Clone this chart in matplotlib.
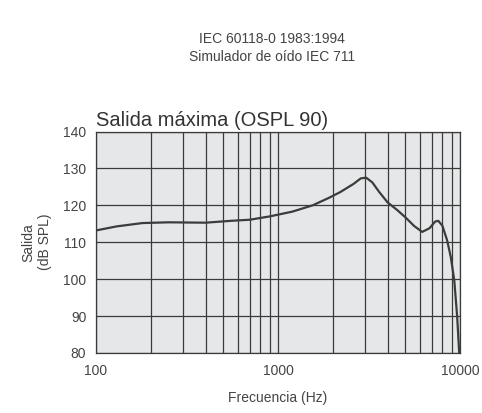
import matplotlib
matplotlib.use("Agg")
import matplotlib.pyplot as plt
from matplotlib.ticker import FixedLocator, NullFormatter

# Curve (frequency in Hz, output in dB SPL)
freq = [100, 130, 180, 250, 400, 550, 700, 900, 1200, 1550, 1900, 2200,
        2600, 2850, 3050, 3300, 3600, 4000, 4500, 5000, 5600, 6200, 6800,
        7300, 7600, 8000, 8500, 8900, 9300, 9650, 9900]
ospl = [113.2, 114.3, 115.2, 115.4, 115.3, 115.8, 116.1, 117.0, 118.3, 120.0,
        122.0, 123.6, 125.8, 127.3, 127.5, 126.2, 123.6, 120.8, 118.8, 116.8,
        114.4, 112.8, 113.8, 115.6, 115.8, 114.5, 110.5, 106.0, 99.7, 89.8,
        80.0]

x_major = [100, 1000, 10000]
x_minor = [f * d for d in (100, 1000) for f in range(2, 10)]
y_ticks = [80, 90, 100, 110, 120, 130, 140]

header = "IEC 60118-0 1983:1994\nSimulador de oído IEC 711"
title = "Salida máxima (OSPL 90)"
xlabel = "Frecuencia (Hz)"
ylabel = "Salida\n(dB SPL)"

text_col = "#444444"
grid_col = "#3a3a3a"
plt.rcParams["font.family"] = ["Liberation Sans", "DejaVu Sans"]

fig = plt.figure(figsize=(4.82, 4.13), dpi=100)
ax = fig.add_axes([96 / 482, 1 - 353 / 413, 364 / 482, 221.5 / 413])
ax.set_facecolor("#e6e7e8")

ax.plot(freq, ospl, color="#3c3c3c", lw=1.6, zorder=3)

ax.set_xscale("log")
ax.set_xlim(100, 10000)
ax.set_ylim(80, 140)
ax.xaxis.set_major_locator(FixedLocator(x_major))
ax.xaxis.set_minor_locator(FixedLocator(x_minor))
ax.xaxis.set_minor_formatter(NullFormatter())
ax.set_xticks(x_major, [str(v) for v in x_major])
ax.set_yticks(y_ticks)

ax.grid(True, which="both", axis="x", color=grid_col, lw=0.9)
ax.grid(True, which="major", axis="y", color=grid_col, lw=0.9)
ax.tick_params(which="both", length=0, colors=text_col, labelsize=10)
ax.tick_params(axis="x", pad=8)
ax.tick_params(axis="y", pad=7)
for s in ax.spines.values():
    s.set_color(grid_col)
    s.set_linewidth(0.9)

ax.set_xlabel(xlabel, color=text_col, fontsize=10, labelpad=9)
ax.set_ylabel(ylabel, color=text_col, fontsize=10, labelpad=8)
ax.set_title(title, loc="left", color="#333333", fontsize=14.5, pad=4)

fig.text(272 / 482, 1 - 48 / 413, header, ha="center", va="center",
         color=text_col, fontsize=10, linespacing=1.35)

fig.savefig("out.png", dpi=100)
